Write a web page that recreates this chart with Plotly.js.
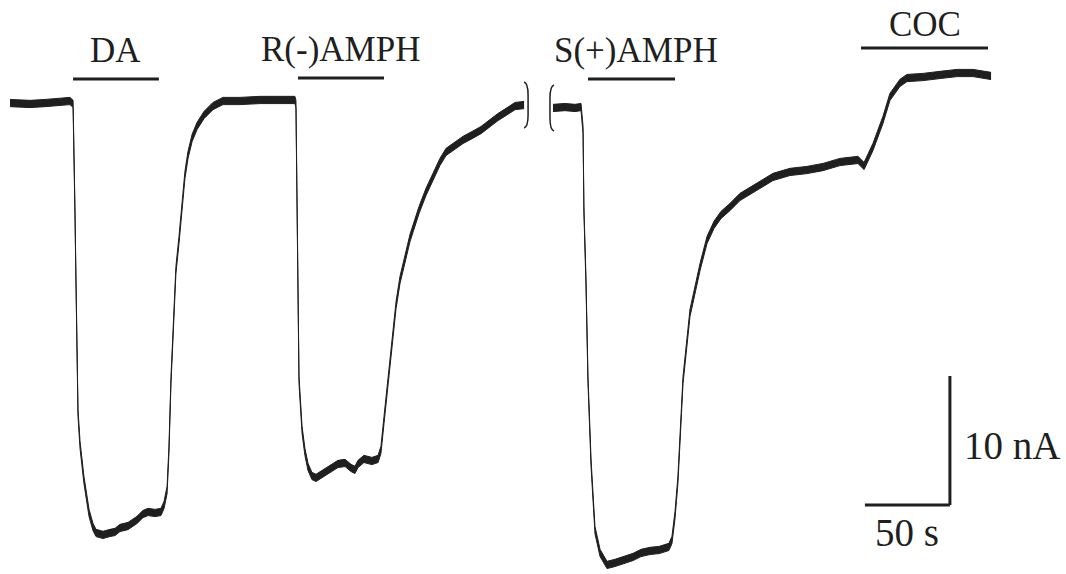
<!DOCTYPE html>
<html>
<head>
<meta charset="utf-8">
<script src="https://cdn.plot.ly/plotly-3.0.1.min.js"></script>
<style>
  html, body { margin: 0; padding: 0; background: #ffffff; }
  #chart { width: 1066px; height: 574px; }
</style>
</head>
<body>
<div id="chart"></div>
<script>
// Amperometric current trace (nA, relative to the initial baseline) against time (s).
// The recording is shown in two pieces separated by a break.
const segment1Time = [
  0, 11.8, 20.6, 29.4, 35.3, 37.1, 37.6, 38.2, 38.8, 40.0, 41.2, 43.5, 46.5, 48.8, 50.6,
  54.7, 58.8, 61.8, 64.7, 69.4, 74.7, 78.2, 81.2, 85.3, 88.8, 90.6, 92.4, 93.5, 94.7, 96.5,
  97.6, 99.4, 101.2, 102.9, 104.7, 107.1, 110.0, 114.1, 119.4, 125.3, 135.3, 147.1, 158.8, 167.6,
  168.2, 168.8, 169.1, 170.0, 171.8, 173.5, 175.3, 177.6, 180.0, 183.5, 188.2, 192.9, 197.1,
  200.6, 202.9, 204.7, 208.2, 212.9, 216.5, 218.2, 220.0, 222.4, 224.7, 227.1, 229.4, 232.4,
  235.3, 240.6, 244.7, 248.8, 252.9, 256.5, 261.8, 266.5, 271.8, 277.1, 282.4, 287.1, 291.8,
  297.1, 302.4
];
const segment1Current = [
  -0.16, -0.23, -0.16, -0.08, 0.0, -0.23, -3.02, -8.45, -13.88, -24.19, -26.67, -29.38, -31.94, -33.02, -33.49,
  -33.64, -33.49, -33.41, -33.10, -32.95, -32.48, -32.02, -31.86, -31.94, -31.86, -31.32, -30.16, -27.05, -21.63, -15.43,
  -13.10, -10.78, -8.45, -5.74, -4.19, -2.87, -1.94, -1.09, -0.39, 0.0, 0.0, 0.08, 0.08, 0.08,
  -0.23, -7.67, -13.88, -21.63, -25.50, -27.21, -28.37, -29.07, -29.22, -28.91, -28.53, -28.14, -28.06,
  -28.45, -28.60, -28.14, -27.75, -27.91, -27.75, -27.05, -24.73, -21.63, -18.53, -15.81, -13.88, -12.09,
  -10.62, -8.45, -7.05, -5.89, -4.73, -3.95, -3.49, -3.02, -2.64, -2.25, -1.71, -1.24, -0.85,
  -0.39, -0.31
];
const segment2Time = [
  319.4, 326.5, 332.4, 335.9, 337.1, 337.6, 338.8, 340.0, 341.8, 344.1, 347.1, 351.2, 355.9, 361.2,
  366.5, 371.2, 376.5, 381.8, 387.6, 389.4, 391.2, 392.9, 395.9, 400.0, 403.5, 405.9, 410.0, 414.1,
  418.2, 423.5, 429.4, 439.4, 448.8, 458.8, 468.8, 478.2, 488.2, 498.8, 502.4, 507.6, 513.5, 517.6,
  523.5, 527.6, 537.1, 547.1, 557.1, 566.5, 577.1
];
const segment2Current = [
  -0.54, -0.47, -0.54, -0.47, -2.25, -8.45, -13.88, -21.63, -28.06, -33.26, -35.04, -35.97, -35.81, -35.58,
  -35.35, -35.04, -34.88, -34.81, -34.57, -34.03, -32.09, -29.38, -21.63, -16.43, -14.26, -12.87, -10.78, -9.61,
  -8.84, -8.22, -7.44, -6.67, -5.89, -5.50, -5.35, -5.12, -4.73, -4.57, -5.04, -3.57, -1.47, 0.31,
  1.40, 1.78, 1.86, 2.02, 2.17, 2.17, 1.94
];

// Drug application periods (s) and the height of each application bar (nA).
const drugNames = ['DA', 'R(-)AMPH', 'S(+)AMPH', 'COC'];
const drugOn = [37.1, 169.4, 340.0, 500.6];
const drugOff = [87.6, 220.0, 391.2, 575.3];
const drugBarLevel = [1.71, 1.78, 1.71, 4.11];

// Calibration bars.
const scaleTimeSeconds = 50;
const scaleCurrentNA = 10;
const scaleLabels = ['50 s', '10 nA'];
const scaleCornerTime = 552.9;
const scaleCornerCurrent = -31.32;

// Styling.
const ink = '#1f1f1f';
const serif = 'Liberation Serif, Times New Roman, serif';
const noiseHalfWidth = 0.28;            // half thickness of the noisy trace band, nA
const labelLift = [7, 7, 7, 2];         // px between each bar and its label
const labelNudge = [0, 0, 4, 0];        // px horizontal offset of each label

function band(times, values) {
  const lower = {
    x: times, y: values.map(v => v - noiseHalfWidth),
    mode: 'lines', line: { color: ink, width: 1 },
    hoverinfo: 'skip', showlegend: false
  };
  const upper = {
    x: times, y: values.map(v => v + noiseHalfWidth),
    mode: 'lines', line: { color: ink, width: 1 },
    fill: 'tonexty', fillcolor: ink,
    hoverinfo: 'skip', showlegend: false
  };
  return [lower, upper];
}

const data = [
  ...band(segment1Time, segment1Current),
  ...band(segment2Time, segment2Current)
];

const shapes = [];
const annotations = [];

// Application bars with their labels.
drugNames.forEach((name, i) => {
  shapes.push({
    type: 'line', xref: 'x', yref: 'y',
    x0: drugOn[i], x1: drugOff[i], y0: drugBarLevel[i], y1: drugBarLevel[i],
    line: { color: ink, width: 3 }
  });
  annotations.push({
    text: name, xref: 'x', yref: 'y',
    x: (drugOn[i] + drugOff[i]) / 2, y: drugBarLevel[i],
    xanchor: 'center', yanchor: 'bottom', yshift: labelLift[i], xshift: labelNudge[i],
    showarrow: false,
    font: { family: serif, size: 35, color: ink }
  });
});

// Break marks on either side of the gap in the recording.
const lastT = segment1Time[segment1Time.length - 1];
const lastI = segment1Current[segment1Current.length - 1];
const firstT = segment2Time[0];
const firstI = segment2Current[0];
shapes.push({
  type: 'path', xref: 'x', yref: 'y', xsizemode: 'pixel', ysizemode: 'pixel',
  xanchor: lastT, yanchor: lastI,
  path: 'M 0,23 C 3,22 4,18 4,10 L 4,-10 C 4,-18 3,-22 0,-23',
  line: { color: ink, width: 1.5 }
});
shapes.push({
  type: 'path', xref: 'x', yref: 'y', xsizemode: 'pixel', ysizemode: 'pixel',
  xanchor: firstT, yanchor: firstI,
  path: 'M 1,23 C -2,22 -3,18 -3,10 L -3,-10 C -3,-18 -2,-22 1,-23',
  line: { color: ink, width: 1.5 }
});

// Calibration bars.
shapes.push({
  type: 'line', xref: 'x', yref: 'y',
  x0: scaleCornerTime - scaleTimeSeconds, x1: scaleCornerTime,
  y0: scaleCornerCurrent, y1: scaleCornerCurrent,
  line: { color: ink, width: 3 }
});
shapes.push({
  type: 'line', xref: 'x', yref: 'y',
  x0: scaleCornerTime, x1: scaleCornerTime,
  y0: scaleCornerCurrent, y1: scaleCornerCurrent + scaleCurrentNA,
  line: { color: ink, width: 3 }
});
annotations.push({
  text: scaleLabels[0], xref: 'x', yref: 'y',
  x: scaleCornerTime - scaleTimeSeconds / 2, y: scaleCornerCurrent,
  xanchor: 'center', yanchor: 'top', yshift: -4,
  showarrow: false,
  font: { family: serif, size: 39, color: ink }
});
annotations.push({
  text: scaleLabels[1], xref: 'x', yref: 'y',
  x: scaleCornerTime, y: scaleCornerCurrent + scaleCurrentNA / 2,
  xanchor: 'left', yanchor: 'middle', xshift: 12, yshift: -5,
  showarrow: false,
  font: { family: serif, size: 39, color: ink }
});

const layout = {
  width: 1066, height: 574,
  margin: { l: 0, r: 0, t: 0, b: 0, pad: 0 },
  paper_bgcolor: '#ffffff', plot_bgcolor: '#ffffff',
  showlegend: false,
  xaxis: { range: [-5.88, 621.18], visible: false, fixedrange: true },
  yaxis: { range: [-36.67, 7.83], visible: false, fixedrange: true },
  shapes: shapes,
  annotations: annotations
};

Plotly.newPlot('chart', data, layout, { staticPlot: true, displayModeBar: false });
</script>
</body>
</html>
